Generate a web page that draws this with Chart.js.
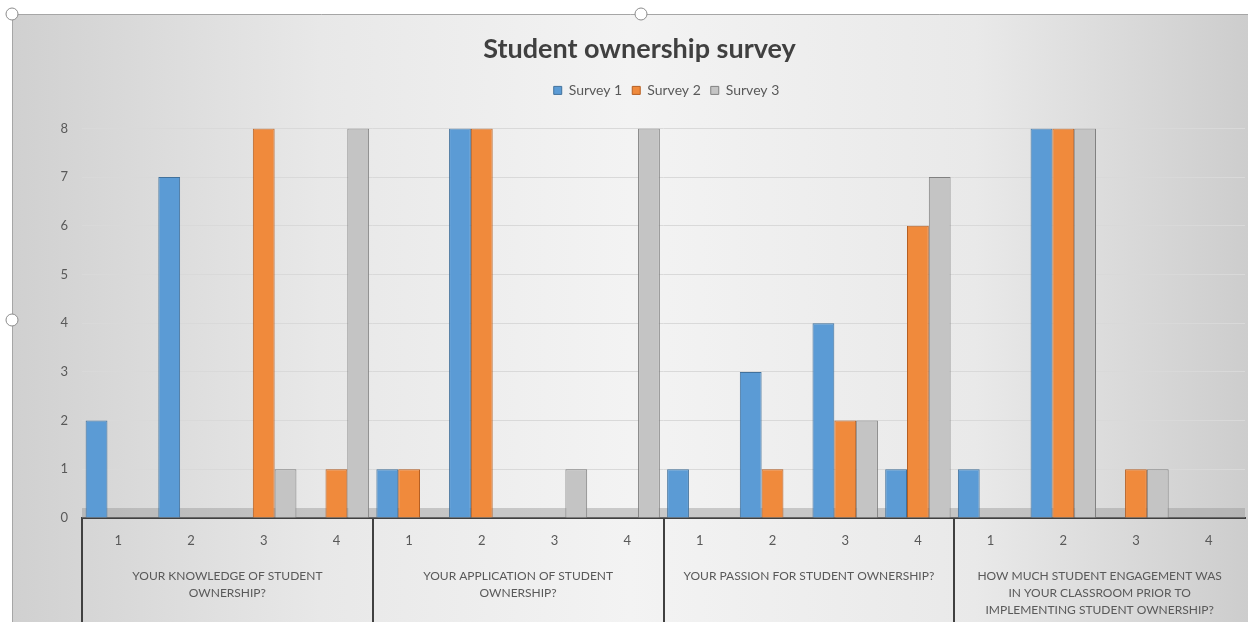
<!DOCTYPE html>
<html><head><meta charset="utf-8">
<script src="https://cdn.jsdelivr.net/npm/chart.js@4/dist/chart.umd.min.js"></script>
<style>html,body{margin:0;padding:0;background:#fff;overflow:hidden}</style>
</head><body>
<canvas id="c" width="1248" height="622"></canvas>
<script>
const categories = ["1","2","3","4","1","2","3","4","1","2","3","4","1","2","3","4"];
const groupLabels = [
  ["YOUR KNOWLEDGE OF STUDENT","OWNERSHIP?"],
  ["YOUR APPLICATION OF STUDENT","OWNERSHIP?"],
  ["YOUR PASSION FOR STUDENT OWNERSHIP?"],
  ["HOW MUCH STUDENT ENGAGEMENT WAS","IN YOUR CLASSROOM PRIOR TO","IMPLEMENTING STUDENT OWNERSHIP?"]
];
const seriesNames = ["Survey 1","Survey 2","Survey 3"];
const survey1 = [2,7,0,0, 1,8,0,0, 1,3,4,1, 1,8,0,0];
const survey2 = [0,0,8,1, 1,8,0,0, 0,1,2,6, 0,8,1,0];
const survey3 = [0,0,1,8, 0,0,1,8, 0,0,2,7, 0,8,1,0];
const yMin = 0, yMax = 8, yStep = 1;
const titleText = "Student ownership survey";

const FONT = "Lato, 'Open Sans', sans-serif";

const bgPlugin = {
  id: 'bg',
  afterInit(chart) {
    const lg = chart.legend;
    if (lg && !lg._patched) {
      const f = lg.fit.bind(lg);
      lg.fit = function () { f(); this.height += 21; };
      lg._patched = true;
    }
  },
  afterLayout(chart) {
    const t = chart.titleBlock;
    if (t) { t.left += 17; t.right += 17; }
    const l = chart.legend;
    if (l) { l.left += 44; l.right += 44; }
  },
  beforeDraw(chart) {
    const ctx = chart.ctx, W = chart.width, H = chart.height;
    ctx.save();
    ctx.fillStyle = '#ffffff';
    ctx.fillRect(0, 0, W, H);
    const g = ctx.createLinearGradient(12, 0, W, 0);
    g.addColorStop(0, '#d0d0d0');
    g.addColorStop(0.25, '#e8e8e8');
    g.addColorStop(0.5, '#f3f3f3');
    g.addColorStop(0.78, '#e9e9e9');
    g.addColorStop(1, '#cdcdcd');
    ctx.fillStyle = g;
    ctx.fillRect(12, 14, W - 12, H - 14);
    ctx.strokeStyle = '#a6a6a6';
    ctx.lineWidth = 1;
    ctx.beginPath();
    ctx.moveTo(12.5, H); ctx.lineTo(12.5, 14.5); ctx.lineTo(W, 14.5);
    ctx.stroke();
    ctx.restore();
  },
  beforeDatasetsDraw(chart) {
    const ctx = chart.ctx, ca = chart.chartArea;
    ctx.save();
    ctx.fillStyle = 'rgba(150,150,150,0.45)';
    ctx.fillRect(ca.left, ca.bottom - 10, ca.right - ca.left, 10);
    ctx.restore();
  },
  afterDraw(chart) {
    const ctx = chart.ctx, xs = chart.scales.x, ca = chart.chartArea;
    ctx.save();
    ctx.strokeStyle = '#404040';
    ctx.lineWidth = 2;
    const n = categories.length;
    for (let i = 0; i < n; i += 4) {
      const x = i === 0 ? ca.left : (xs.getPixelForValue(i - 1) + xs.getPixelForValue(i)) / 2;
      ctx.beginPath();
      ctx.moveTo(Math.round(x), ca.bottom);
      ctx.lineTo(Math.round(x), chart.height);
      ctx.stroke();
    }
    ctx.fillStyle = '#ffffff';
    ctx.strokeStyle = '#8c8c8c';
    ctx.lineWidth = 1;
    [[12, 14], [641, 14], [12, 320]].forEach(([hx, hy]) => {
      ctx.beginPath(); ctx.arc(hx, hy, 6, 0, Math.PI * 2); ctx.fill(); ctx.stroke();
    });
    ctx.restore();
  }
};

new Chart(document.getElementById('c'), {
  type: 'bar',
  data: {
    labels: categories,
    datasets: [
      { label: seriesNames[0], data: survey1, backgroundColor: '#5b9bd5', borderColor: '#41719c', borderWidth: 1 },
      { label: seriesNames[1], data: survey2, backgroundColor: '#f08a3c', borderColor: '#b65f22', borderWidth: 1 },
      { label: seriesNames[2], data: survey3, backgroundColor: '#c4c4c4', borderColor: '#808080', borderWidth: 1 }
    ]
  },
  options: {
    responsive: false,
    animation: false,
    devicePixelRatio: 1,
    layout: { padding: { top: 14, left: 0, right: 3, bottom: 0 } },
    datasets: { bar: { categoryPercentage: 0.9, barPercentage: 1.0 } },
    plugins: {
      title: {
        display: true, text: titleText, color: '#404040',
        font: { family: FONT, size: 27, weight: 'bold' },
        padding: { top: 19, bottom: 8 }
      },
      legend: {
        display: true,
        labels: {
          color: '#595959', boxWidth: 8, boxHeight: 8, padding: 10,
          font: { family: FONT, size: 14 }
        }
      },
      tooltip: { enabled: false }
    },
    scales: {
      x: {
        type: 'category',
        position: 'bottom',
        grid: { display: true, drawOnChartArea: false, drawTicks: false, color: 'rgba(0,0,0,0)' },
        border: { display: true, color: '#404040', width: 2 },
        ticks: { color: '#595959', font: { family: FONT, size: 13 }, padding: 15, autoSkip: false, maxRotation: 0 },
        afterFit(s) { s.height = 42; }
      },
      x2: {
        type: 'category',
        position: 'bottom',
        labels: groupLabels,
        offset: true,
        grid: { display: false, drawTicks: false },
        border: { display: false },
        ticks: { color: '#595959', font: { family: FONT, size: 12, lineHeight: 1.45 }, padding: 7, autoSkip: false, maxRotation: 0 },
        afterFit(s) { s.height = 62; }
      },
      y: {
        min: yMin, max: yMax,
        ticks: { stepSize: yStep, color: '#595959', font: { family: FONT, size: 13 }, padding: 14 },
        grid: { color: '#d9d9d9', drawTicks: false },
        border: { display: false },
        afterFit(s) { s.width = 82; }
      }
    }
  },
  plugins: [bgPlugin]
});
</script>
</body></html>
